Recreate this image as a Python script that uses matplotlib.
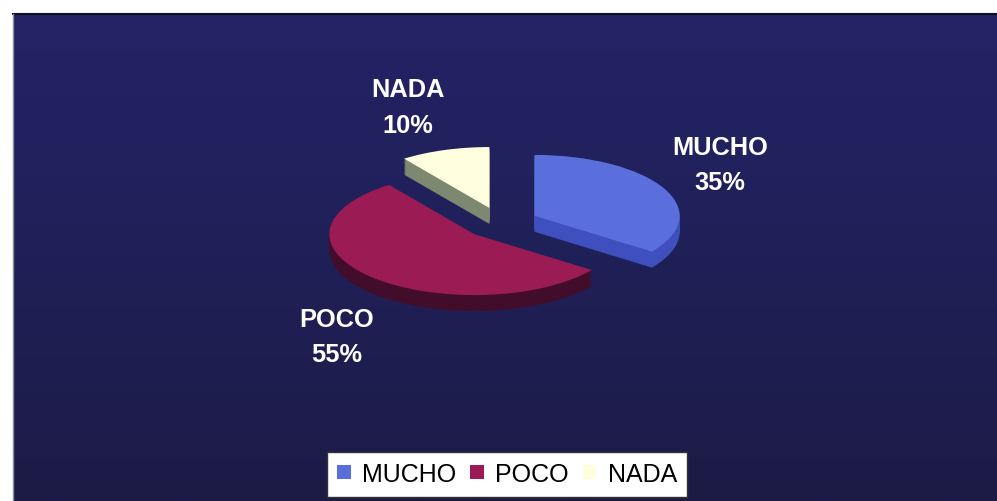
import numpy as np
import matplotlib
matplotlib.use("Agg")
import matplotlib.pyplot as plt
from matplotlib.colors import LinearSegmentedColormap
from matplotlib.lines import Line2D

# ---- data ----
categories = ["MUCHO", "POCO", "NADA"]
values = [35, 55, 10]
top_colors = ["#5b6fdc", "#9b1b55", "#ffffe0"]
side_colors = ["#3f4fbd", "#420d2a", "#7d8870"]

# ---- layout (pixels) ----
W, H = 997, 502
PIE_CX, PIE_CY = 501, 224      # pie centre in pixels
R_PX = 145                     # horizontal radius
TILT = 0.42                    # vertical squash
DEPTH_PX = 16
EXPLODE = 0.26
label_pos = [(720, 155, 190), (337, 327, 362), (408, 97, 133)]  # x, baseline1, baseline2

FONT = ["Liberation Sans", "DejaVu Sans"]

fig = plt.figure(figsize=(W / 100, H / 100), dpi=100)
fig.patch.set_facecolor("white")

# background panel with gradient
x0, y0 = 13, 15
bg = fig.add_axes([x0 / W, 0, 1 - x0 / W, 1 - y0 / H])
grad = np.linspace(0, 1, 256).reshape(-1, 1)
cmap = LinearSegmentedColormap.from_list("bg", ["#232366", "#202058", "#1c1b46"])
bg.imshow(grad, aspect="auto", cmap=cmap, extent=[0, 1, 0, 1], origin="upper")
bg.set_axis_off()
fig.add_artist(Line2D([x0 / W, 1], [1 - y0 / H, 1 - y0 / H], transform=fig.transFigure,
                      color="#111122", lw=1.5))
fig.add_artist(Line2D([x0 / W, x0 / W], [0, 1 - y0 / H], transform=fig.transFigure,
                      color="#8a8a9a", lw=1.0))

# pie axes mapped so that 1 data unit = R_PX horizontally, R_PX*TILT vertically
ax = fig.add_axes([0, 0, 1, 1])
ax.set_facecolor("none")
ry = R_PX * TILT
explode = [EXPLODE] * len(values)

n_steps = DEPTH_PX
for k in range(n_steps, 0, -1):
    d = k / ry
    ax.pie(values, colors=side_colors, explode=explode, startangle=90,
           counterclock=False, center=(0, -d), radius=1,
           wedgeprops=dict(linewidth=0, antialiased=True))

wedges, _ = ax.pie(values, colors=top_colors, explode=explode, startangle=90,
                   counterclock=False, center=(0, 0), radius=1,
                   wedgeprops=dict(linewidth=0))

ax.set_aspect("auto")
ax.set_xlim(-PIE_CX / R_PX, (W - PIE_CX) / R_PX)
ax.set_ylim((PIE_CY - H) / ry, PIE_CY / ry)
ax.set_axis_off()

# labels
for cat, val, (lx, b1, b2) in zip(categories, values, label_pos):
    fig.text(lx / W, 1 - b1 / H, cat, ha="center", va="baseline", color="white",
             fontsize=18.3, fontweight="bold", family=FONT)
    fig.text(lx / W, 1 - b2 / H, f"{val}%", ha="center", va="baseline", color="white",
             fontsize=18.3, fontweight="bold", family=FONT)

# legend
leg = ax.legend(wedges, categories, loc="center", bbox_to_anchor=(507 / W, 1 - 475 / H),
                bbox_transform=fig.transFigure, ncol=3, frameon=True, fancybox=False,
                edgecolor="#333333", framealpha=1, facecolor="white",
                handlelength=0.55, handleheight=0.45, handletextpad=0.45,
                columnspacing=0.55, borderpad=0.42,
                prop={"family": FONT, "size": 18})
leg.get_frame().set_linewidth(1.0)

fig.savefig("out.png", dpi=100, facecolor=fig.get_facecolor())
